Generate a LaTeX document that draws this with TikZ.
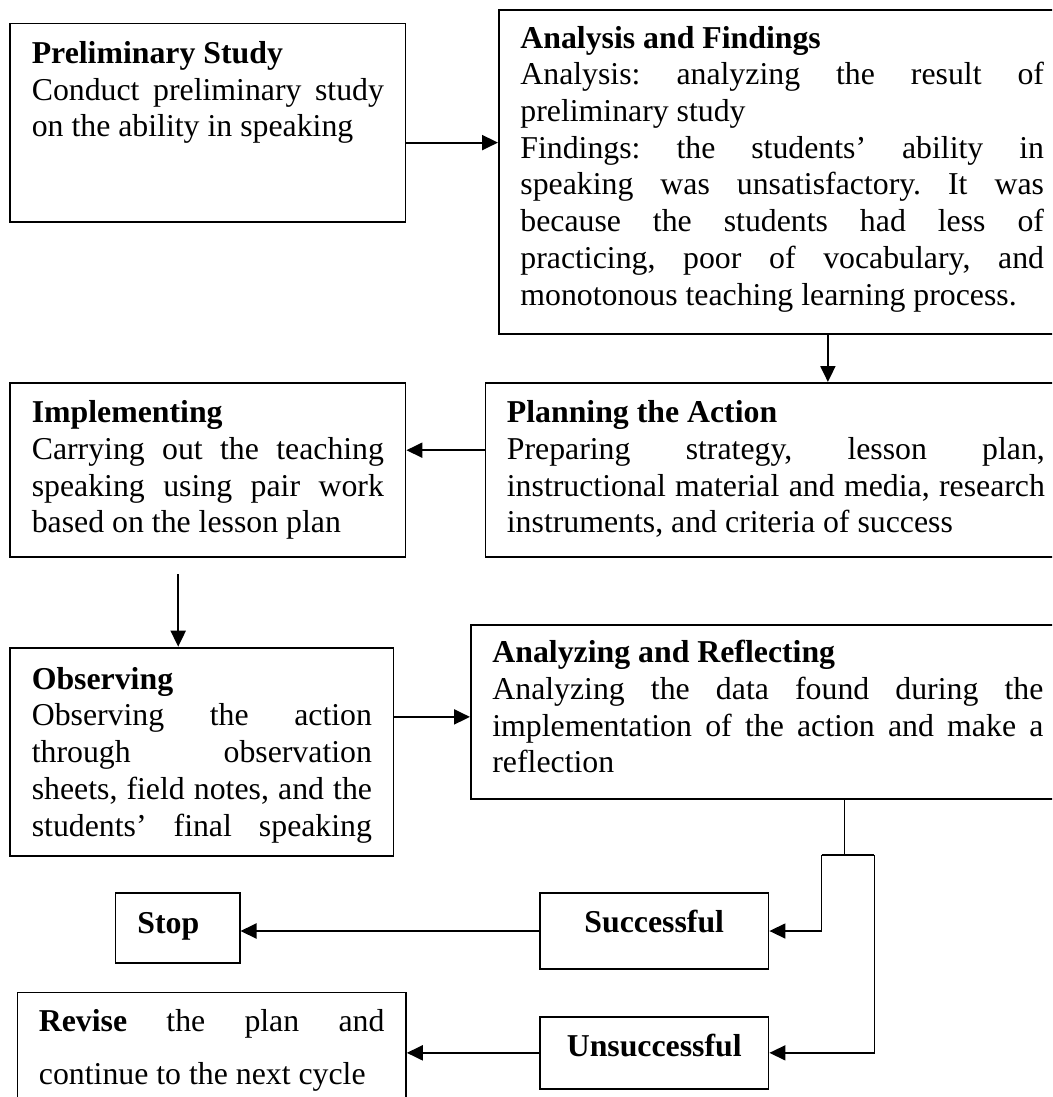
\documentclass[tikz,border=0pt]{standalone}
\usepackage{fontspec}
\setmainfont{Liberation Serif}
\usetikzlibrary{arrows.meta}
\frenchspacing
\newcommand{\bodyfont}{\fontsize{31.8pt}{36.7pt}\selectfont}
\newcommand{\J}[1]{\makebox[\linewidth][s]{#1}\\}
\newcommand{\boxtxt}[4]{\begin{minipage}[t][#2][t]{#1}\frenchspacing\rule{0pt}{#3}#4\end{minipage}}
\tikzset{
  box/.style={draw, line width=1.8pt, inner xsep=21.5pt, inner ysep=0pt, anchor=north west},
  sbox/.style={draw, line width=1.8pt, inner sep=0pt, font=\bodyfont\bfseries},
  arr/.style={line width=2pt, -{Triangle[length=16pt,width=15pt]}},
  link/.style={line width=1.5pt}
}
\begin{document}
\begin{tikzpicture}[x=1pt, y=-1pt, font=\bodyfont]
\useasboundingbox (0,0) rectangle (1052,1097);
\clip (0,0) rectangle (1052,1097);

\node[box] (pre) at (9.4,22.7) {\boxtxt{352.2pt}{198pt}{40pt}{%
\textbf{Preliminary Study}\\
\J{Conduct preliminary study}
on the ability in speaking}};

\node[box] (ana) at (498,9) {\boxtxt{523.6pt}{324pt}{38.3pt}{%
\textbf{Analysis and Findings}\\
\J{Analysis: analyzing the result of}
preliminary study\\
\J{Findings: the students’ ability in}
\J{speaking was unsatisfactory. It was}
\J{because the students had less of}
\J{practicing, poor of vocabulary, and}
monotonous teaching learning process.}};

\node[box] (imp) at (9.4,382) {\boxtxt{352.2pt}{174pt}{39.7pt}{%
\textbf{Implementing}\\
\J{Carrying out the teaching}
\J{speaking using pair work}
based on the lesson plan}};

\node[box] (pla) at (484.5,382) {\boxtxt{538pt}{174pt}{39.7pt}{%
\textbf{Planning the Action}\\
\J{Preparing strategy, lesson plan,}
\J{instructional material and media, research}
instruments, and criteria of success}};

\node[box] (obs) at (9.4,646.7) {\boxtxt{340.2pt}{208.3pt}{41.6pt}{%
\textbf{Observing}\\
\J{Observing the action}
\J{through observation}
\J{sheets, field notes, and the}
\J{students’ final speaking}}};

\node[box] (ar) at (470,624) {\boxtxt{551pt}{173.7pt}{37.7pt}{%
\textbf{Analyzing and Reflecting}\\
\J{Analyzing the data found during the}
\J{implementation of the action and make a}
reflection}};

\node[sbox, minimum width=228.5pt, minimum height=76pt, text height=20pt, text depth=16.6pt] (suc) at (654.25,931) {Successful};
\node[sbox, text width=80.2pt, align=left, inner xsep=22pt, minimum height=70pt, text height=22pt, text depth=11.4pt] (stop) at (177.5,928) {Stop};
\node[sbox, minimum width=228.5pt, minimum height=72.3pt, text height=22pt, text depth=14.2pt] (uns) at (654.25,1052.85) {Unsuccessful};

\node[box] (rev) at (16.5,991.5) {\boxtxt{345.5pt}{123.5pt}{39.2pt}{%
\J{\textbf{Revise} the plan and}[15.9pt]
continue to the next cycle}};

% connectors
\draw[arr] ([yshift=-20pt]pre.east) -- ([yshift=-20pt]pre.east -| ana.west);
\draw[arr] ([xshift=45.7pt]ana.south) -- ([xshift=45.7pt]ana.south |- pla.north);
\draw[arr] ([yshift=19.7pt]pla.west) -- ([yshift=19.7pt]pla.west -| imp.east);
\draw[arr, shorten <=16.3pt] ([xshift=-29.7pt]imp.south) -- ([xshift=-29.7pt]imp.south |- obs.north);
\draw[arr] ([yshift=34.85pt]obs.east) -- ([yshift=34.85pt]obs.east -| ar.west);

\coordinate (j) at (844.3,855);
\coordinate (jl) at (821.7,855);
\coordinate (jr) at (874.3,855);
\draw[link] (ar.south -| j) -- (j);
\draw[link] (jl) -- (jr);
\draw[link, -{Triangle[length=16pt,width=15pt]}] (jl) |- (suc.east);
\draw[link, -{Triangle[length=16pt,width=15pt]}] (jr) |- (uns.east);

\draw[arr] (suc.west) -- (suc.west -| stop.east);
\draw[arr] (uns.west) -- (uns.west -| rev.east);
\end{tikzpicture}
\end{document}
